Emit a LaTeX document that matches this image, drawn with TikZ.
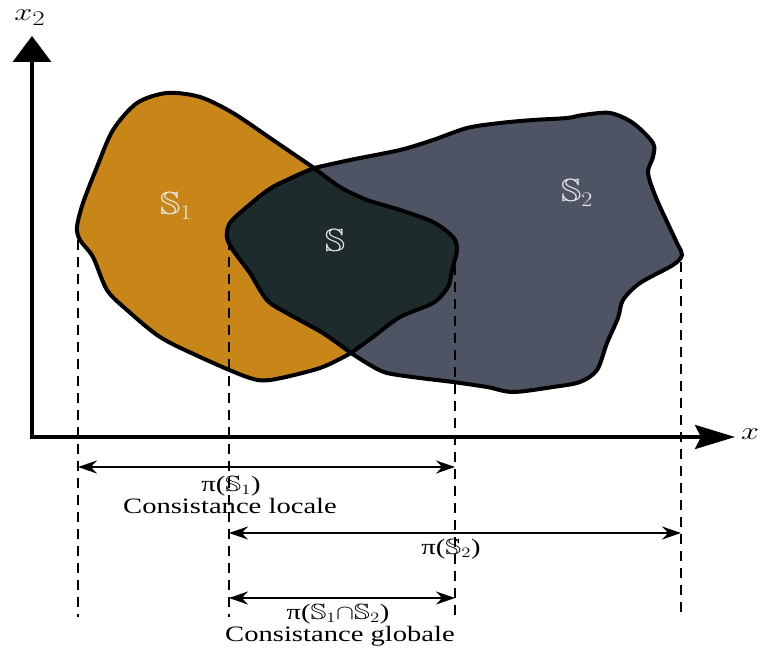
\documentclass[tikz,border=0pt]{standalone}
\usepackage{amssymb}
\usepackage{fontspec}
\setmainfont{Liberation Serif}
\usetikzlibrary{arrows.meta}

\definecolor{setone}{RGB}{200,133,24}
\definecolor{settwo}{RGB}{79,84,100}
\definecolor{setboth}{RGB}{30,43,44}
\definecolor{setlabel}{RGB}{235,235,235}

\newcommand{\wide}[1]{\scalebox{1.3}[1]{#1}}

\begin{document}
\begin{tikzpicture}[
    x=1pt, y=-1pt,
    region/.style={draw=black, line width=4pt, line join=round},
    axis/.style={line width=4pt},
    proj/.style={line width=2pt, dash pattern=on 10pt off 7pt},
    span/.style={line width=2.2pt, {Stealth[length=19pt,width=13pt]}-{Stealth[length=19pt,width=13pt]}},
    txt/.style={font=\fontsize{22}{24}\selectfont, inner sep=0pt},
    setname/.style={font=\fontsize{32}{34}\selectfont, text=setlabel, inner sep=0pt},
    axlabel/.style={font=\fontsize{30}{32}\selectfont, inner sep=0pt},
]
    \useasboundingbox (0,0) rectangle (761,650);

    % Sets
    \path[region, fill=setone]
        plot[smooth] coordinates {(314,168) (273,140) (233,113) (200,97) (167,93) (137,103) (113,130) (97,167) (83,203) (77,227) (80,240) (93,257) (107,290) (127,310) (160,337) (200,357) (247,377) (270,380) (320,368) (351,353)}
        -- plot[smooth] coordinates {(351,353) (373,337) (400,317) (433,303) (448,287) (452,270) (457,250) (453,237) (433,222) (400,210) (367,200) (340,187) (314,168)}
        -- cycle;
    \path[region, fill=settwo]
        plot[smooth] coordinates {(351,353) (370,365) (387,373) (420,378) (453,382) (487,387) (513,392) (553,387) (580,382) (597,370) (607,343) (618,318) (623,300) (640,283) (673,265) (682,255) (677,243) (657,200) (648,173) (653,157) (653,143) (633,123) (610,113) (583,115) (567,118) (533,120) (500,123) (467,128) (433,140) (400,150) (350,160) (314,168)}
        -- plot[smooth] coordinates {(314,168) (273,187) (247,207) (230,223) (227,237) (233,250) (250,273) (267,300) (287,313) (323,333) (351,353)}
        -- cycle;
    \path[region, fill=setboth]
        plot[smooth] coordinates {(314,168) (273,187) (247,207) (230,223) (227,237) (233,250) (250,273) (267,300) (287,313) (323,333) (351,353)}
        -- plot[smooth] coordinates {(351,353) (373,337) (400,317) (433,303) (448,287) (452,270) (457,250) (453,237) (433,222) (400,210) (367,200) (340,187) (314,168)}
        -- cycle;

    \node[setname] (s1) at (176,206) {\scalebox{1.15}[1]{$\mathbb{S}_1$}};
    \node[setname] (s) at (335,240) {\scalebox{1.15}[1]{$\mathbb{S}$}};
    \node[setname] (s2) at (577,193) {\scalebox{1.15}[1]{$\mathbb{S}_2$}};

    % Axes
    \coordinate (o) at (32,437);
    \coordinate (ytip) at (32,36);
    \coordinate (xtip) at (735,437);
    \draw[axis, -{Triangle[length=26pt,width=38pt]}] ([yshift=2pt]o) -- (ytip);
    \draw[axis, -{Stealth[length=40pt,width=24pt,inset=6pt]}] ([xshift=-2pt]o) -- (xtip);
    \node[axlabel] (ylab) at (30,18) {\wide{$x_2$}};
    \node[axlabel] (xlab) at (750,434) {\wide{$x$}};

    % Projections
    \coordinate (p1t) at (78,240);  \coordinate (p1b) at (78,617);
    \coordinate (p2t) at (229,240); \coordinate (p2b) at (229,617);
    \coordinate (p3t) at (455,265); \coordinate (p3b) at (455,617);
    \coordinate (p4t) at (681,262); \coordinate (p4b) at (681,617);
    \draw[proj] (p1t) -- (p1b);
    \draw[proj] (p2t) -- (p2b);
    \draw[proj] (p3t) -- (p3b);
    \draw[proj] (p4t) -- (p4b);

    % Spans
    \draw[span] (p1t |- 0,467) coordinate (a1l) -- (p3t |- 0,467) coordinate (a1r);
    \draw[span] (p2t |- 0,533) coordinate (a2l) -- (p4t |- 0,533) coordinate (a2r);
    \draw[span] (p2t |- 0,598) coordinate (a3l) -- (p3t |- 0,598) coordinate (a3r);

    % Labels
    \node[txt] (l1) at (231,486) {\wide{π($\mathbb{S}_1$)}};
    \node[txt] (c1) at (230,506) {\wide{Consistance locale}};
    \node[txt] (l2) at (451,549) {\wide{π($\mathbb{S}_2$)}};
    \node[txt] (l3) at (338,614) {\wide{π($\mathbb{S}_1{\cap}\mathbb{S}_2$)}};
    \node[txt] (c3) at (340,636) {\wide{Consistance globale}};
\end{tikzpicture}
\end{document}
